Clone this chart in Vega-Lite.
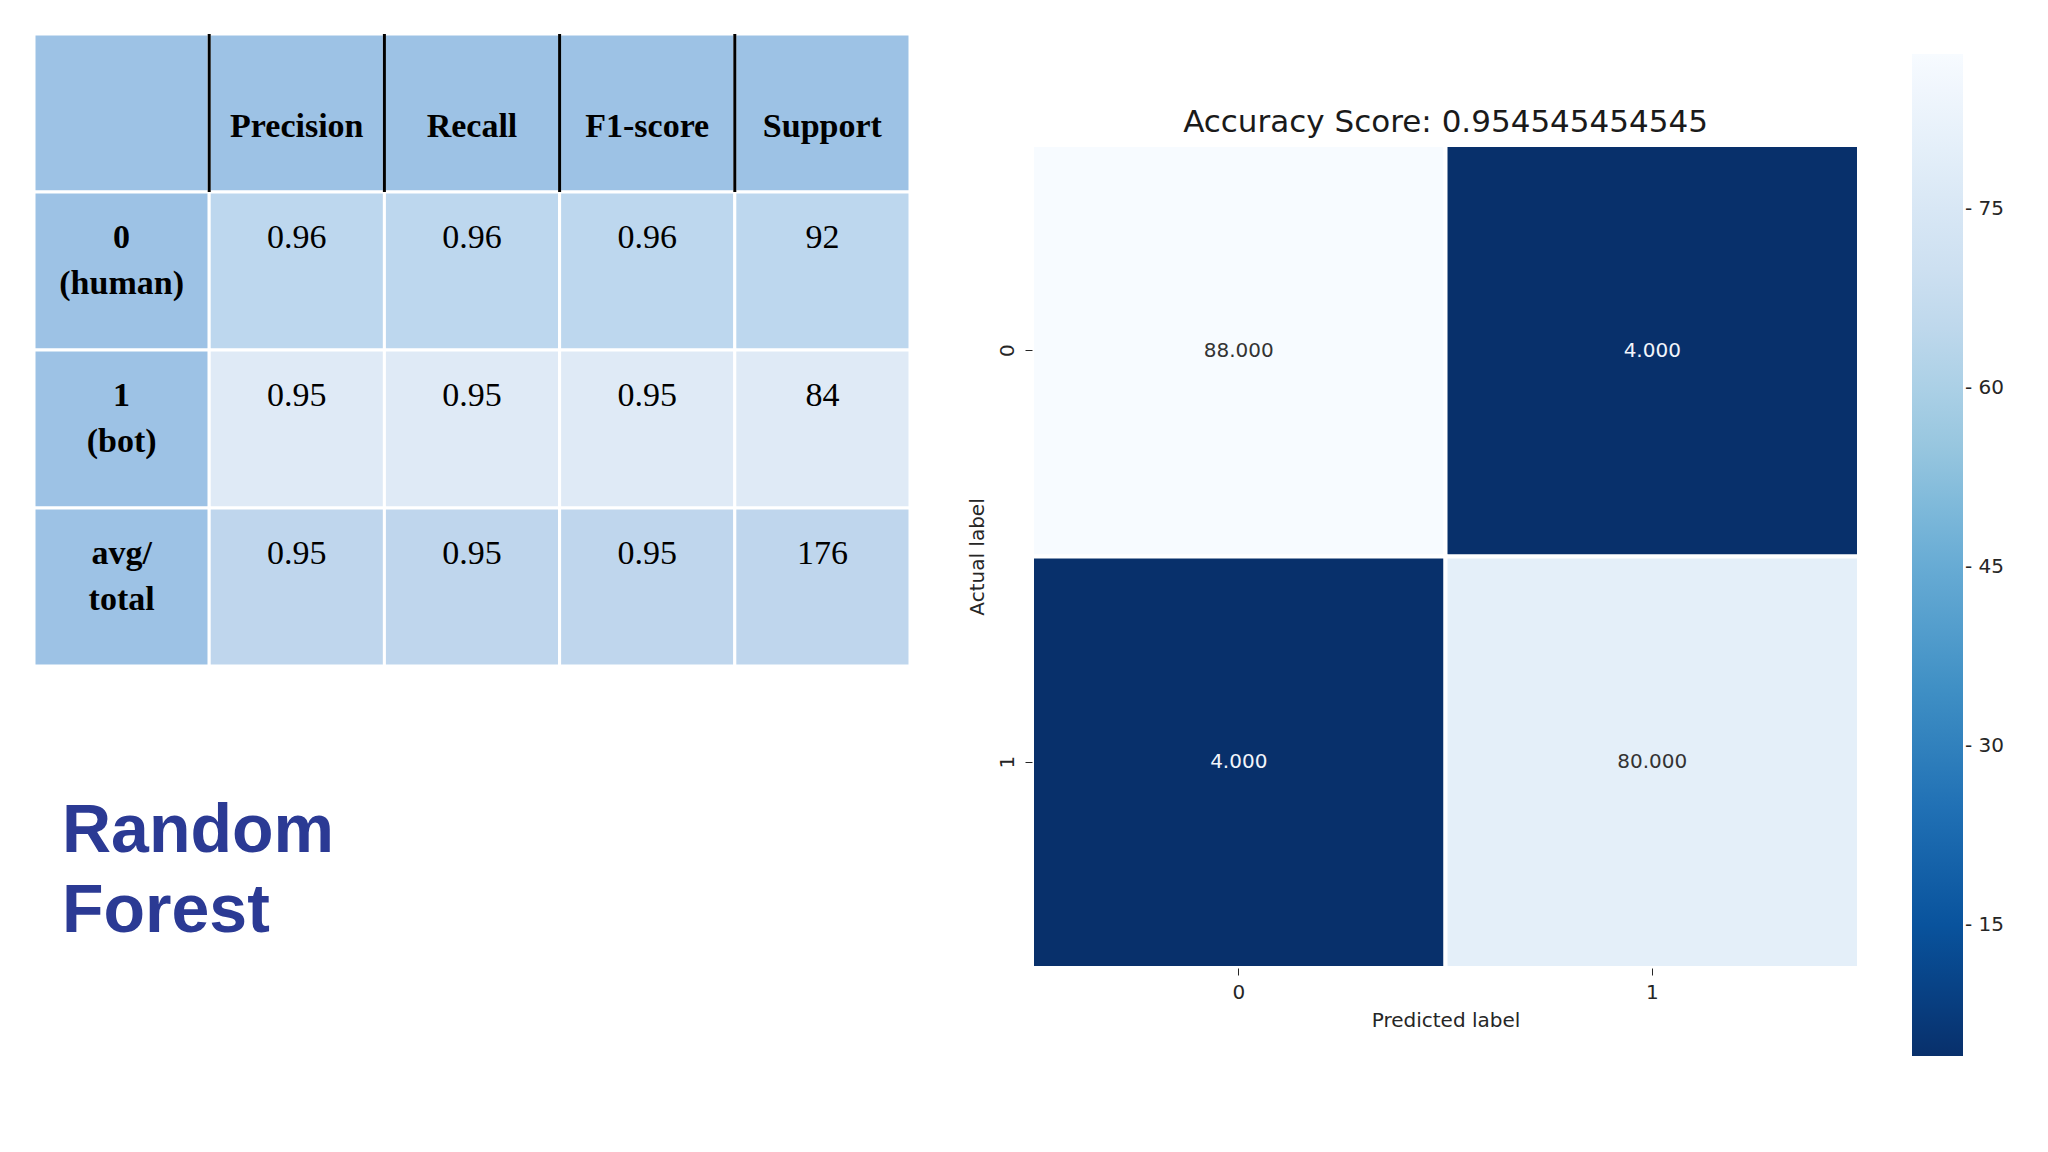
{
  "$schema": "https://vega.github.io/schema/vega-lite/v6.json",
  "width": 2048,
  "height": 1152,
  "autosize": {"type": "none"},
  "padding": 0,
  "background": "white",
  "config": {"view": {"stroke": null}},
  "resolve": {"scale": {"x": "independent", "y": "independent", "color": "independent"}},
  "layer": [
    {
      "data": {"values": [
        {"col": "c0", "row": "h", "kind": "head", "text": ""},
        {"col": "c1", "row": "h", "kind": "head", "text": "Precision"},
        {"col": "c2", "row": "h", "kind": "head", "text": "Recall"},
        {"col": "c3", "row": "h", "kind": "head", "text": "F1-score"},
        {"col": "c4", "row": "h", "kind": "head", "text": "Support"},
        {"col": "c0", "row": "r0", "kind": "lab", "text": "0\n(human)"},
        {"col": "c1", "row": "r0", "kind": "r0", "text": "0.96"},
        {"col": "c2", "row": "r0", "kind": "r0", "text": "0.96"},
        {"col": "c3", "row": "r0", "kind": "r0", "text": "0.96"},
        {"col": "c4", "row": "r0", "kind": "r0", "text": "92"},
        {"col": "c0", "row": "r1", "kind": "lab", "text": "1\n(bot)"},
        {"col": "c1", "row": "r1", "kind": "r1", "text": "0.95"},
        {"col": "c2", "row": "r1", "kind": "r1", "text": "0.95"},
        {"col": "c3", "row": "r1", "kind": "r1", "text": "0.95"},
        {"col": "c4", "row": "r1", "kind": "r1", "text": "84"},
        {"col": "c0", "row": "r2", "kind": "lab", "text": "avg/\ntotal"},
        {"col": "c1", "row": "r2", "kind": "avg", "text": "0.95"},
        {"col": "c2", "row": "r2", "kind": "avg", "text": "0.95"},
        {"col": "c3", "row": "r2", "kind": "avg", "text": "0.95"},
        {"col": "c4", "row": "r2", "kind": "avg", "text": "176"}
      ]},
      "encoding": {
        "x": {"field": "col", "type": "nominal", "axis": null,
              "scale": {"domain": ["c0", "c1", "c2", "c3", "c4"], "range": [34, 910], "paddingInner": 0, "paddingOuter": 0}},
        "y": {"field": "row", "type": "nominal", "axis": null,
              "scale": {"domain": ["h", "r0", "r1", "r2"], "range": [34, 666], "paddingInner": 0, "paddingOuter": 0}}
      },
      "layer": [
        {
          "mark": {"type": "rect", "stroke": "white", "strokeWidth": 3},
          "encoding": {
            "color": {"field": "kind", "type": "nominal", "legend": null,
                      "scale": {"domain": ["head", "lab", "r0", "r1", "avg"],
                                "range": ["#9dc2e5", "#9dc2e5", "#bdd7ee", "#dfeaf6", "#bfd6ed"]}}
          }
        },
        {
          "transform": [{"filter": "datum.row === 'h' && datum.col !== 'c0'"}],
          "mark": {"type": "rule", "color": "black", "strokeWidth": 3},
          "encoding": {
            "x": {"field": "col", "type": "nominal", "bandPosition": 0},
            "y": {"field": "row", "type": "nominal", "bandPosition": 0},
            "y2": {"field": "row", "bandPosition": 1}
          }
        },
        {
          "transform": [{"filter": "datum.row === 'h'"}],
          "mark": {"type": "text", "font": "Liberation Serif", "fontWeight": "bold", "fontSize": 34, "color": "black", "baseline": "alphabetic", "align": "center"},
          "encoding": {
            "y": {"field": "row", "type": "nominal", "bandPosition": 0.65},
            "text": {"field": "text"}
          }
        },
        {
          "transform": [{"filter": "datum.row !== 'h' && datum.col === 'c0'"}],
          "mark": {"type": "text", "font": "Liberation Serif", "fontWeight": "bold", "fontSize": 34, "color": "black", "baseline": "alphabetic", "align": "center", "lineBreak": "\n", "lineHeight": 46},
          "encoding": {
            "y": {"field": "row", "type": "nominal", "bandPosition": 0.353},
            "text": {"field": "text"}
          }
        },
        {
          "transform": [{"filter": "datum.row !== 'h' && datum.col !== 'c0'"}],
          "mark": {"type": "text", "font": "Liberation Serif", "fontSize": 34, "color": "black", "baseline": "alphabetic", "align": "center"},
          "encoding": {
            "y": {"field": "row", "type": "nominal", "bandPosition": 0.353},
            "text": {"field": "text"}
          }
        },
        {
          "data": {"values": [{"label": "Random\nForest"}]},
          "mark": {"type": "text", "font": "Liberation Sans", "fontWeight": "bold", "fontSize": 68, "color": "#2b3a94", "baseline": "alphabetic", "align": "left", "lineBreak": "\n", "lineHeight": 80, "dx": 28, "dy": 186},
          "encoding": {
            "x": {"datum": "c0", "type": "nominal", "bandPosition": 0},
            "y": {"datum": "r2", "type": "nominal", "bandPosition": 1},
            "text": {"field": "label"}
          }
        }
      ]
    },
    {
      "data": {"values": [
        {"actual": "0", "predicted": "0", "count": 88},
        {"actual": "0", "predicted": "1", "count": 4},
        {"actual": "1", "predicted": "0", "count": 4},
        {"actual": "1", "predicted": "1", "count": 80}
      ]},
      "encoding": {
        "x": {"field": "predicted", "type": "nominal",
              "scale": {"domain": ["0", "1"], "range": [1032, 1859], "paddingInner": 0, "paddingOuter": 0},
              "axis": {"orient": "bottom", "offset": -184, "title": "Predicted label", "labelAngle": 0, "tickSize": 7, "tickColor": "#262626", "domain": false, "grid": false,
                       "labelFont": "DejaVu Sans", "labelFontSize": 20, "labelColor": "#262626", "labelPadding": 7,
                       "titleFont": "DejaVu Sans", "titleFontSize": 20, "titleFontWeight": "normal", "titleColor": "#262626", "titlePadding": 8}},
        "y": {"field": "actual", "type": "nominal",
              "scale": {"domain": ["0", "1"], "range": [145, 968], "paddingInner": 0, "paddingOuter": 0},
              "axis": {"orient": "left", "offset": -1032, "title": "Actual label", "labelAngle": 270, "tickSize": 7, "tickColor": "#262626", "domain": false, "grid": false,
                       "labelFont": "DejaVu Sans", "labelFontSize": 20, "labelColor": "#262626", "labelPadding": 8,
                       "titleFont": "DejaVu Sans", "titleFontSize": 20, "titleFontWeight": "normal", "titleColor": "#262626", "titlePadding": 10}}
      },
      "layer": [
        {
          "mark": {"type": "rect", "stroke": "white", "strokeWidth": 4},
          "encoding": {
            "color": {"field": "count", "type": "quantitative",
                      "scale": {"domain": [4, 14.5, 25, 35.5, 46, 56.5, 67, 77.5, 88],
                                "range": ["#08306b", "#08519c", "#2171b5", "#4292c6", "#6baed6", "#9ecae1", "#c6dbef", "#deebf7", "#f7fbff"],
                                "interpolate": "rgb", "zero": false, "nice": false},
                      "legend": {"orient": "none", "legendX": 1912, "legendY": 54, "direction": "vertical", "title": null,
                                 "gradientLength": 1002, "gradientThickness": 51, "gradientStrokeWidth": 0, "padding": 0,
                                 "values": [15, 30, 45, 60, 75], "labelOverlap": false,
                                 "labelFont": "DejaVu Sans", "labelFontSize": 20, "labelColor": "#262626", "labelOffset": 2,
                                 "labelExpr": "'- ' + datum.label"}}
          }
        },
        {
          "mark": {"type": "text", "font": "DejaVu Sans", "fontSize": 20, "baseline": "middle", "align": "center"},
          "encoding": {
            "text": {"field": "count", "type": "quantitative", "format": ".3f"},
            "color": {"condition": {"test": "datum.count > 46", "value": "#333333"}, "value": "#f2f5fb"}
          }
        },
        {
          "data": {"values": [{"title": "Accuracy Score: 0.954545454545"}]},
          "mark": {"type": "text", "font": "DejaVu Sans", "fontSize": 31, "baseline": "alphabetic", "align": "center", "color": "#1a1a1a", "dy": -13},
          "encoding": {
            "x": {"datum": "0", "type": "nominal", "bandPosition": 1},
            "y": {"datum": "0", "type": "nominal", "bandPosition": 0},
            "text": {"field": "title"}
          }
        }
      ]
    }
  ]
}
